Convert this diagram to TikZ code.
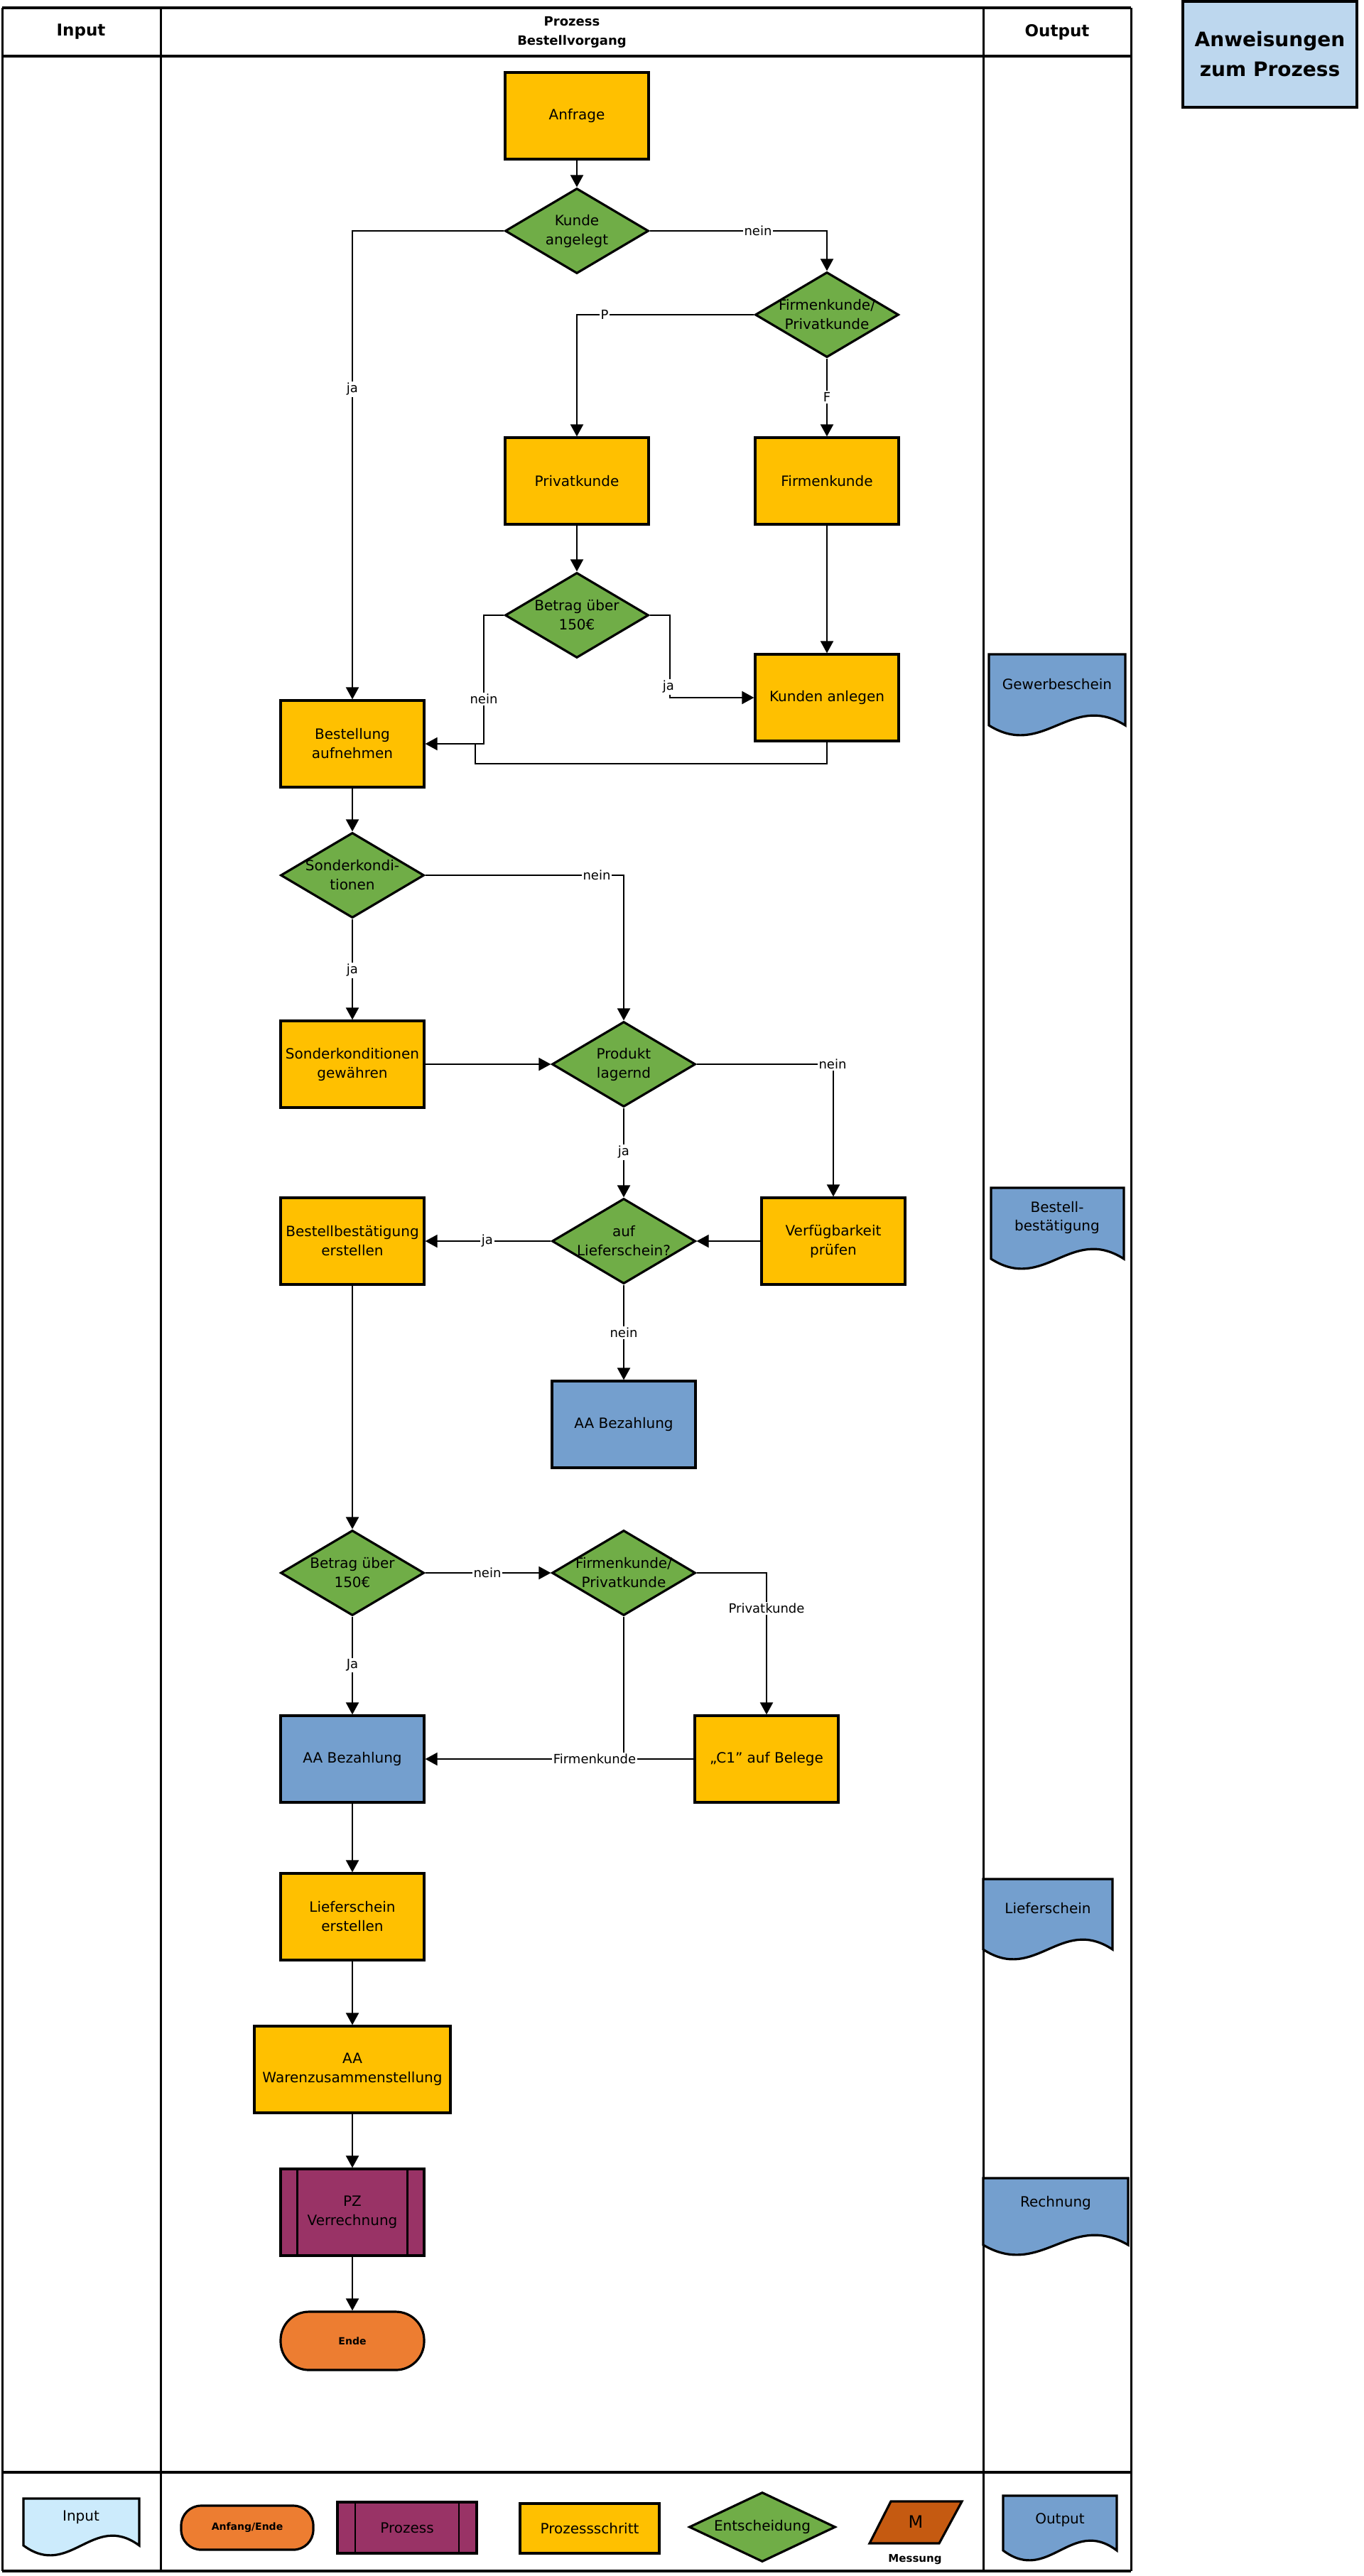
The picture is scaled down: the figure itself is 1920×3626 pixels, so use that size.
\documentclass[tikz,border=0pt]{standalone}
\usepackage{fontspec}
\setmainfont{DejaVu Sans}
\usetikzlibrary{shapes.geometric,arrows.meta,calc}
\definecolor{cyel}{HTML}{FFC000}
\definecolor{cgreen}{HTML}{70AD47}
\definecolor{cblue}{HTML}{749FCE}
\definecolor{cpurple}{HTML}{993366}
\definecolor{corange}{HTML}{ED7D31}
\definecolor{cbrown}{HTML}{C55A11}
\definecolor{clight}{HTML}{BDD7EE}
\definecolor{ccyan}{HTML}{CCEBFC}
\tikzset{
  box/.style={rectangle, draw, line width=1.6pt, minimum width=101pt, minimum height=61pt, inner sep=2pt, align=center, font=\fontsize{10}{13.5}\selectfont},
  stepbox/.style={box, fill=cyel},
  aabox/.style={box, fill=cblue},
  dec/.style={diamond, draw, line width=1.6pt, fill=cgreen, minimum width=101pt, minimum height=60pt, inner sep=0pt},
  dtext/.style={align=center, font=\fontsize{10}{13.5}\selectfont, inner sep=0pt},
  conn/.style={line width=1pt, -{Triangle[length=8.5pt,width=9pt]}},
  plainln/.style={line width=1pt},
  elab/.style={fill=white, inner sep=1pt, font=\fontsize{9}{10}\selectfont},
  frameln/.style={line width=1.5pt},
  framehl/.style={line width=2.2pt},
  pics/docu/.style n args={3}{code={
    \path[draw, line width=1.6pt, fill=#3] (0,0) -- (#1,0) -- (#1,#2) .. controls ({0.6*#1},{#2-48}) and ({0.4*#1},{#2+48}) .. (0,#2) -- cycle;
  }},
}
\begin{document}
\begin{tikzpicture}[x=0.5pt,y=-0.5pt]
\useasboundingbox (0,0) rectangle (1920,3626);
% frame
\foreach \xx in {3,226,1384,1592} \draw[frameln] (\xx,11) -- (\xx,3619);
\foreach \yy in {11,79,3480,3619} \draw[framehl] (3,\yy) -- (1592,\yy);
% header
\node[font=\bfseries\fontsize{11.5}{14}\selectfont] (hin) at (114,45) {Input};
\node[align=center, font=\bfseries\fontsize{9}{13.5}\selectfont] (hproz) at (805,45) {Prozess\\Bestellvorgang};
\node[font=\bfseries\fontsize{11.5}{14}\selectfont] (hout) at (1488,45) {Output};
\node[draw, fill=clight, line width=1.6pt, minimum width=122.5pt, minimum height=74.5pt, align=center, font=\bfseries\fontsize{14}{21}\selectfont] (anw) at (1787.5,76.5) {Anweisungen\\zum Prozess};

% process nodes
\node[stepbox] (anfrage) at (812,163) {Anfrage};
\node[dec] (kunde) at (812,325) {};
\node[dtext] (kundet) at (kunde) {Kunde\\angelegt};
\node[dec] (fp) at (1164,443) {};
\node[dtext] (fpt) at (fp) {Firmenkunde/\\Privatkunde};
\node[stepbox] (privat) at (812,677) {Privatkunde};
\node[stepbox] (firmen) at (1164,677) {Firmenkunde};
\node[dec] (betrag1) at (812,866) {};
\node[dtext] (betrag1t) at (betrag1) {Betrag über\\150€};
\node[stepbox] (kunden) at (1164,982) {Kunden anlegen};
\node[stepbox] (bestellung) at (496,1047) {Bestellung\\aufnehmen};
\node[dec] (sonder) at (496,1232) {};
\node[dtext] (sondert) at (sonder) {Sonderkondi-\\tionen};
\node[stepbox] (sgew) at (496,1498) {Sonderkonditionen\\gewähren};
\node[dec] (produkt) at (878,1498) {};
\node[dtext] (produktt) at (produkt) {Produkt\\lagernd};
\node[dec] (auf) at (878,1747) {};
\node[dtext] (auft) at (auf) {auf\\Lieferschein?};
\node[stepbox] (verf) at (1173,1747) {Verfügbarkeit\\prüfen};
\node[stepbox] (bbest) at (496,1747) {Bestellbestätigung\\erstellen};
\node[aabox] (aa1) at (878,2005) {AA Bezahlung};
\node[dec] (betrag2) at (496,2214) {};
\node[dtext] (betrag2t) at (betrag2) {Betrag über\\150€};
\node[dec] (fp2) at (878,2214) {};
\node[dtext] (fp2t) at (fp2) {Firmenkunde/\\Privatkunde};
\node[aabox] (aa2) at (496,2476) {AA Bezahlung};
\node[stepbox] (c1) at (1079,2476) {„C1" auf Belege};
\node[stepbox] (liefer) at (496,2698) {Lieferschein\\erstellen};
\node[stepbox, minimum width=138pt] (waren) at (496,2913) {AA\\Warenzusammenstellung};
\node[box, fill=cpurple] (pz) at (496,3114) {PZ\\Verrechnung};
\draw[line width=1.6pt] ([xshift=12.5pt]pz.north west) -- ([xshift=12.5pt]pz.south west);
\draw[line width=1.6pt] ([xshift=-12.5pt]pz.north east) -- ([xshift=-12.5pt]pz.south east);
\node[box, fill=corange, minimum height=41pt, rounded corners=20pt, font=\bfseries\fontsize{7}{9}\selectfont] (ende) at (496,3295) {Ende};

% connectors
\draw[conn] (anfrage.south) -- (kunde.north);
\draw[conn] (kunde.west) -| (bestellung.north) node[elab] at (496,548) {ja};
\draw[conn] (kunde.east) -| (fp.north) node[elab] at (1067,325) {nein};
\draw[conn] (fp.west) -| (privat.north) node[elab] at (851,443) {P};
\draw[conn] (fp.south) -- (firmen.north) node[elab] at (1164,559) {F};
\draw[conn] (privat.south) -- (betrag1.north);
\draw[conn] (firmen.south) -- (kunden.north);
\draw[conn] (betrag1.west) -- (681,866) |- (bestellung.east) node[elab] at (681,984) {nein};
\draw[conn] (betrag1.east) -- (943,866) |- (kunden.west) node[elab] at (941,967) {ja};
\draw[plainln] (kunden.south) -- (1164,1075) -- (669,1075) -- (669,1047);
\draw[conn] (bestellung.south) -- (sonder.north);
\draw[conn] (sonder.east) -| (produkt.north) node[elab] at (840,1232) {nein};
\draw[conn] (sonder.south) -- (sgew.north) node[elab] at (496,1366) {ja};
\draw[conn] (sgew.east) -- (produkt.west);
\draw[conn] (produkt.east) -| (verf.north) node[elab] at (1172,1498) {nein};
\draw[conn] (produkt.south) -- (auf.north) node[elab] at (878,1622) {ja};
\draw[conn] (verf.west) -- (auf.east);
\draw[conn] (auf.west) -- (bbest.east) node[elab] at (686,1747) {ja};
\draw[conn] (auf.south) -- (aa1.north) node[elab] at (878,1876) {nein};
\draw[conn] (bbest.south) -- (betrag2.north);
\draw[conn] (betrag2.east) -- (fp2.west) node[elab] at (686,2214) {nein};
\draw[conn] (betrag2.south) -- (aa2.north) node[elab] at (496,2344) {Ja};
\draw[conn] (fp2.east) -| (c1.north) node[elab] at (1079,2264) {Privatkunde};
\draw[plainln] (c1.west) -- (fp2.south |- c1.west);
\draw[conn] (fp2.south) |- (aa2.east) node[elab] at (837,2476) {Firmenkunde};
\draw[conn] (aa2.south) -- (liefer.north);
\draw[conn] (liefer.south) -- (waren.north);
\draw[conn] (waren.south) -- (pz.north);
\draw[conn] (pz.south) -- (ende.north);

% output documents
\pic at (1392,921) {docu={192}{100}{cblue}};
\node[font=\fontsize{10}{13}\selectfont] (gew) at (1488,963) {Gewerbeschein};
\pic at (1395,1672) {docu={187}{100}{cblue}};
\node[align=center, font=\fontsize{10}{13}\selectfont] (bbdoc) at (1488,1714) {Bestell-\\bestätigung};
\pic at (1384,2645) {docu={182}{99}{cblue}};
\node[font=\fontsize{10}{13}\selectfont] (lsdoc) at (1475,2686) {Lieferschein};
\pic at (1384,3066) {docu={204}{94}{cblue}};
\node[font=\fontsize{10}{13}\selectfont] (redoc) at (1486,3101) {Rechnung};

% legend
\pic at (33,3517) {docu={163}{66}{ccyan}};
\node[font=\fontsize{10}{13}\selectfont] (lgin) at (114,3543) {Input};
\node[draw, line width=1.6pt, fill=corange, minimum width=93pt, minimum height=31pt, rounded corners=14pt, font=\bfseries\fontsize{7}{9}\selectfont] (lgae) at (348,3558) {Anfang/Ende};
\node[draw, line width=1.6pt, fill=cpurple, minimum width=98pt, minimum height=36pt, font=\fontsize{10}{13}\selectfont] (lgpz) at (573,3558) {Prozess};
\draw[line width=1pt] ([xshift=13.5pt]lgpz.north west) -- ([xshift=13.5pt]lgpz.south west);
\draw[line width=1pt] ([xshift=-13.5pt]lgpz.north east) -- ([xshift=-13.5pt]lgpz.south east);
\node[draw, line width=1.6pt, fill=cyel, minimum width=98pt, minimum height=35pt, font=\fontsize{10}{13}\selectfont] (lgps) at (830,3559) {Prozessschritt};
\node[diamond, draw, line width=1.6pt, fill=cgreen, minimum width=103pt, minimum height=49pt, inner sep=0pt] (lgent) at (1073,3557) {};
\node[font=\fontsize{10}{13}\selectfont] (lgentt) at (lgent) {Entscheidung};
\path[draw, line width=1.6pt, fill=cbrown] (1254,3521) -- (1354,3521) -- (1322,3580) -- (1224,3580) -- cycle;
\node[font=\fontsize{12}{14}\selectfont] (lgm) at (1289,3550) {M};
\node[font=\bfseries\fontsize{7.5}{9}\selectfont] (lgmess) at (1288,3603) {Messung};
\pic at (1412,3513) {docu={160}{77}{cblue}};
\node[font=\fontsize{10}{13}\selectfont] (lgout) at (1492,3547) {Output};
\end{tikzpicture}
\end{document}
